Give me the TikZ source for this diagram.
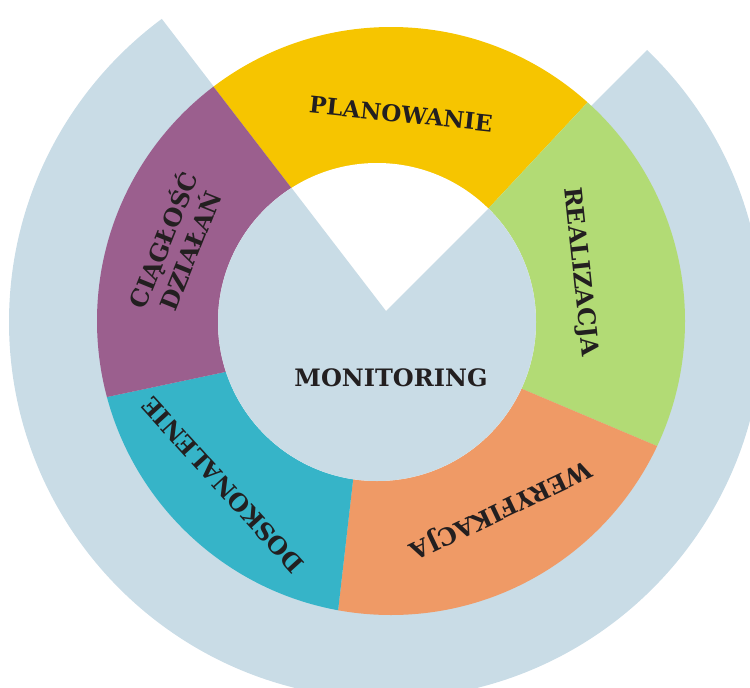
\documentclass[tikz,border=0pt]{standalone}
\usepackage{fontspec}
\setmainfont{DejaVu Serif}
\definecolor{bluegray}{HTML}{C9DCE6}
\definecolor{cyellow}{HTML}{F6C500}
\definecolor{cgreen}{HTML}{B2DB75}
\definecolor{corange}{HTML}{EF9A66}
\definecolor{cteal}{HTML}{36B4C8}
\definecolor{cpurple}{HTML}{9B5F8E}
\definecolor{txt}{HTML}{231F20}
\begin{document}
\begin{tikzpicture}[x=1pt,y=-1pt,
  lbl/.style={font=\bfseries\fontsize{24}{29}\selectfont, text=txt, inner sep=0pt, align=center}]
\useasboundingbox (0,0) rectangle (750,688);
% notched background disk
\begin{scope}
  \clip (386,311) -- (810.3,-113.3) -- (1400,-113.3) -- (1400,1400) -- (-700,1400) -- (-700,-165) -- (20.7,-165) -- cycle;
  \fill[bluegray] (386,322) circle[radius=377pt];
\end{scope}
% coloured ring segments
\begin{scope}
  \clip (391,321) circle[radius=294pt];
  \fill[cyellow] (386,311) -- (138.5,-10.8) -- (391,-130) -- (661.6,23.2) -- (386,318) -- cycle;
  \fill[cgreen] (386,318) -- (661.6,23.2) -- (800,200) -- (757,488.4) -- (389,332.5) -- cycle;
  \fill[corange] (389,332.5) -- (757,488.4) -- (620,720) -- (324.5,729) -- (370,332) -- cycle;
  \fill[cteal] (370,332) -- (324.5,729) -- (80,650) -- (-19.5,423.8) -- (381.5,338.9) -- cycle;
  \fill[cpurple] (381.5,338.9) -- (-19.5,423.8) -- (-40,150) -- (138.5,-10.8) -- (386,311) -- cycle;
\end{scope}
% inner hole
\begin{scope}
  \clip (377,322) circle[radius=159pt];
  \fill[white] (377,322) circle[radius=165pt];
  \fill[bluegray] (386,311) -- (810.3,-113.3) -- (1400,-113.3) -- (1400,1400) -- (-700,1400) -- (-700,-165) -- (20.7,-165) -- cycle;
\end{scope}
% labels
\node[lbl, font=\bfseries\fontsize{23}{27}\selectfont, rotate=-6] (plan) at (401,114) {PLANOWANIE};
\node[lbl, rotate=-84] (real) at (580,272) {REALIZACJA};
\node[lbl, rotate=205.5] (wer) at (500,509) {WERYFIKACJA};
\node[lbl, rotate=132.3] (dosk) at (223,485) {DOSKONALENIE};
\node[lbl, rotate=68] (ciag) at (175,245) {CIĄGŁOŚĆ\\DZIAŁAŃ};
\node[lbl] (mon) at (391,378) {MONITORING};
\end{tikzpicture}
\end{document}
